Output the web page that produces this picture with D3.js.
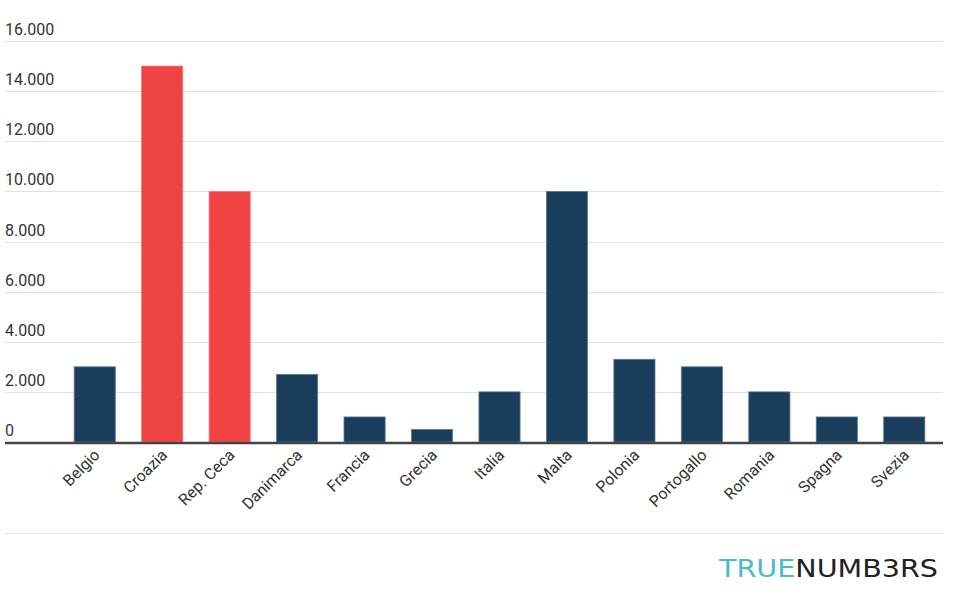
<!DOCTYPE html>
<html>
<head>
<meta charset="utf-8">
<script src="https://cdn.jsdelivr.net/npm/d3@7"></script>
<style>
  html, body { margin: 0; padding: 0; background: #fff; }
  svg { display: block; }
</style>
</head>
<body>
<div id="chart"></div>
<script>
const categories = ["Belgio","Croazia","Rep. Ceca","Danimarca","Francia","Grecia","Italia","Malta","Polonia","Portogallo","Romania","Spagna","Svezia"];
const values = [3000, 15000, 10000, 2700, 1000, 500, 2000, 10000, 3300, 3000, 2000, 1000, 1000];
const highlighted = ["Croazia", "Rep. Ceca"];
const yTicks = [0, 2000, 4000, 6000, 8000, 10000, 12000, 14000, 16000];
const yTickLabels = ["0","2.000","4.000","6.000","8.000","10.000","12.000","14.000","16.000"];

const W = 957, H = 605;
const svg = d3.select("#chart").append("svg").attr("width", W).attr("height", H);

const x = d3.scaleBand().domain(categories).range([61, 938]).paddingInner(0.39).paddingOuter(0.195);
const y = d3.scaleLinear().domain([0, 16000]).range([442, 41]);

const gridLeft = 5, gridRight = 943;

// gridlines
svg.append("g").selectAll("line").data(yTicks.filter(d => d > 0)).join("line")
  .attr("x1", gridLeft).attr("x2", gridRight)
  .attr("y1", d => Math.round(y(d)) + 0.5).attr("y2", d => Math.round(y(d)) + 0.5)
  .attr("stroke", "#e0e0e0").attr("stroke-width", 1);

// y labels
svg.append("g").selectAll("text").data(yTicks).join("text")
  .attr("x", gridLeft).attr("y", (d) => y(d) - 6)
  .attr("font-family", "Roboto, sans-serif").attr("font-size", 16)
  .attr("fill", "#333")
  .text((d, i) => yTickLabels[i]);

// bars
svg.append("g").selectAll("rect").data(categories).join("rect")
  .attr("x", d => x(d))
  .attr("width", x.bandwidth())
  .attr("y", (d, i) => y(values[i]))
  .attr("height", (d, i) => y(0) - y(values[i]))
  .attr("fill", d => highlighted.includes(d) ? "#f04444" : "#1a3d5c")
  .attr("stroke", d => highlighted.includes(d) ? "#f47a7a" : "#5d7b93")
  .attr("stroke-width", 0.8);

// baseline
svg.append("line")
  .attr("x1", gridLeft).attr("x2", gridRight)
  .attr("y1", 443).attr("y2", 443)
  .attr("stroke", "#444").attr("stroke-width", 2.5);

// x labels
svg.append("g").selectAll("text").data(categories).join("text")
  .attr("transform", d => `translate(${x(d) + x.bandwidth() / 2 + 6},${456}) rotate(-45)`)
  .attr("text-anchor", "end")
  .attr("font-family", "Roboto, sans-serif").attr("font-size", 16)
  .attr("fill", "#333")
  .text(d => d);

// bottom separator
svg.append("line")
  .attr("x1", gridLeft).attr("x2", gridRight)
  .attr("y1", 533.5).attr("y2", 533.5)
  .attr("stroke", "#e0e0e0").attr("stroke-width", 1);

// logo
const logo = svg.append("text")
  .attr("x", 719).attr("y", 577)
  .attr("font-family", "'DejaVu Sans', sans-serif").attr("font-size", 24)
  .attr("textLength", 219).attr("lengthAdjust", "spacingAndGlyphs");
logo.append("tspan").attr("fill", "#4bbac8").text("TRUE");
logo.append("tspan").attr("fill", "#222").text("NUMB3RS");
</script>
</body>
</html>
